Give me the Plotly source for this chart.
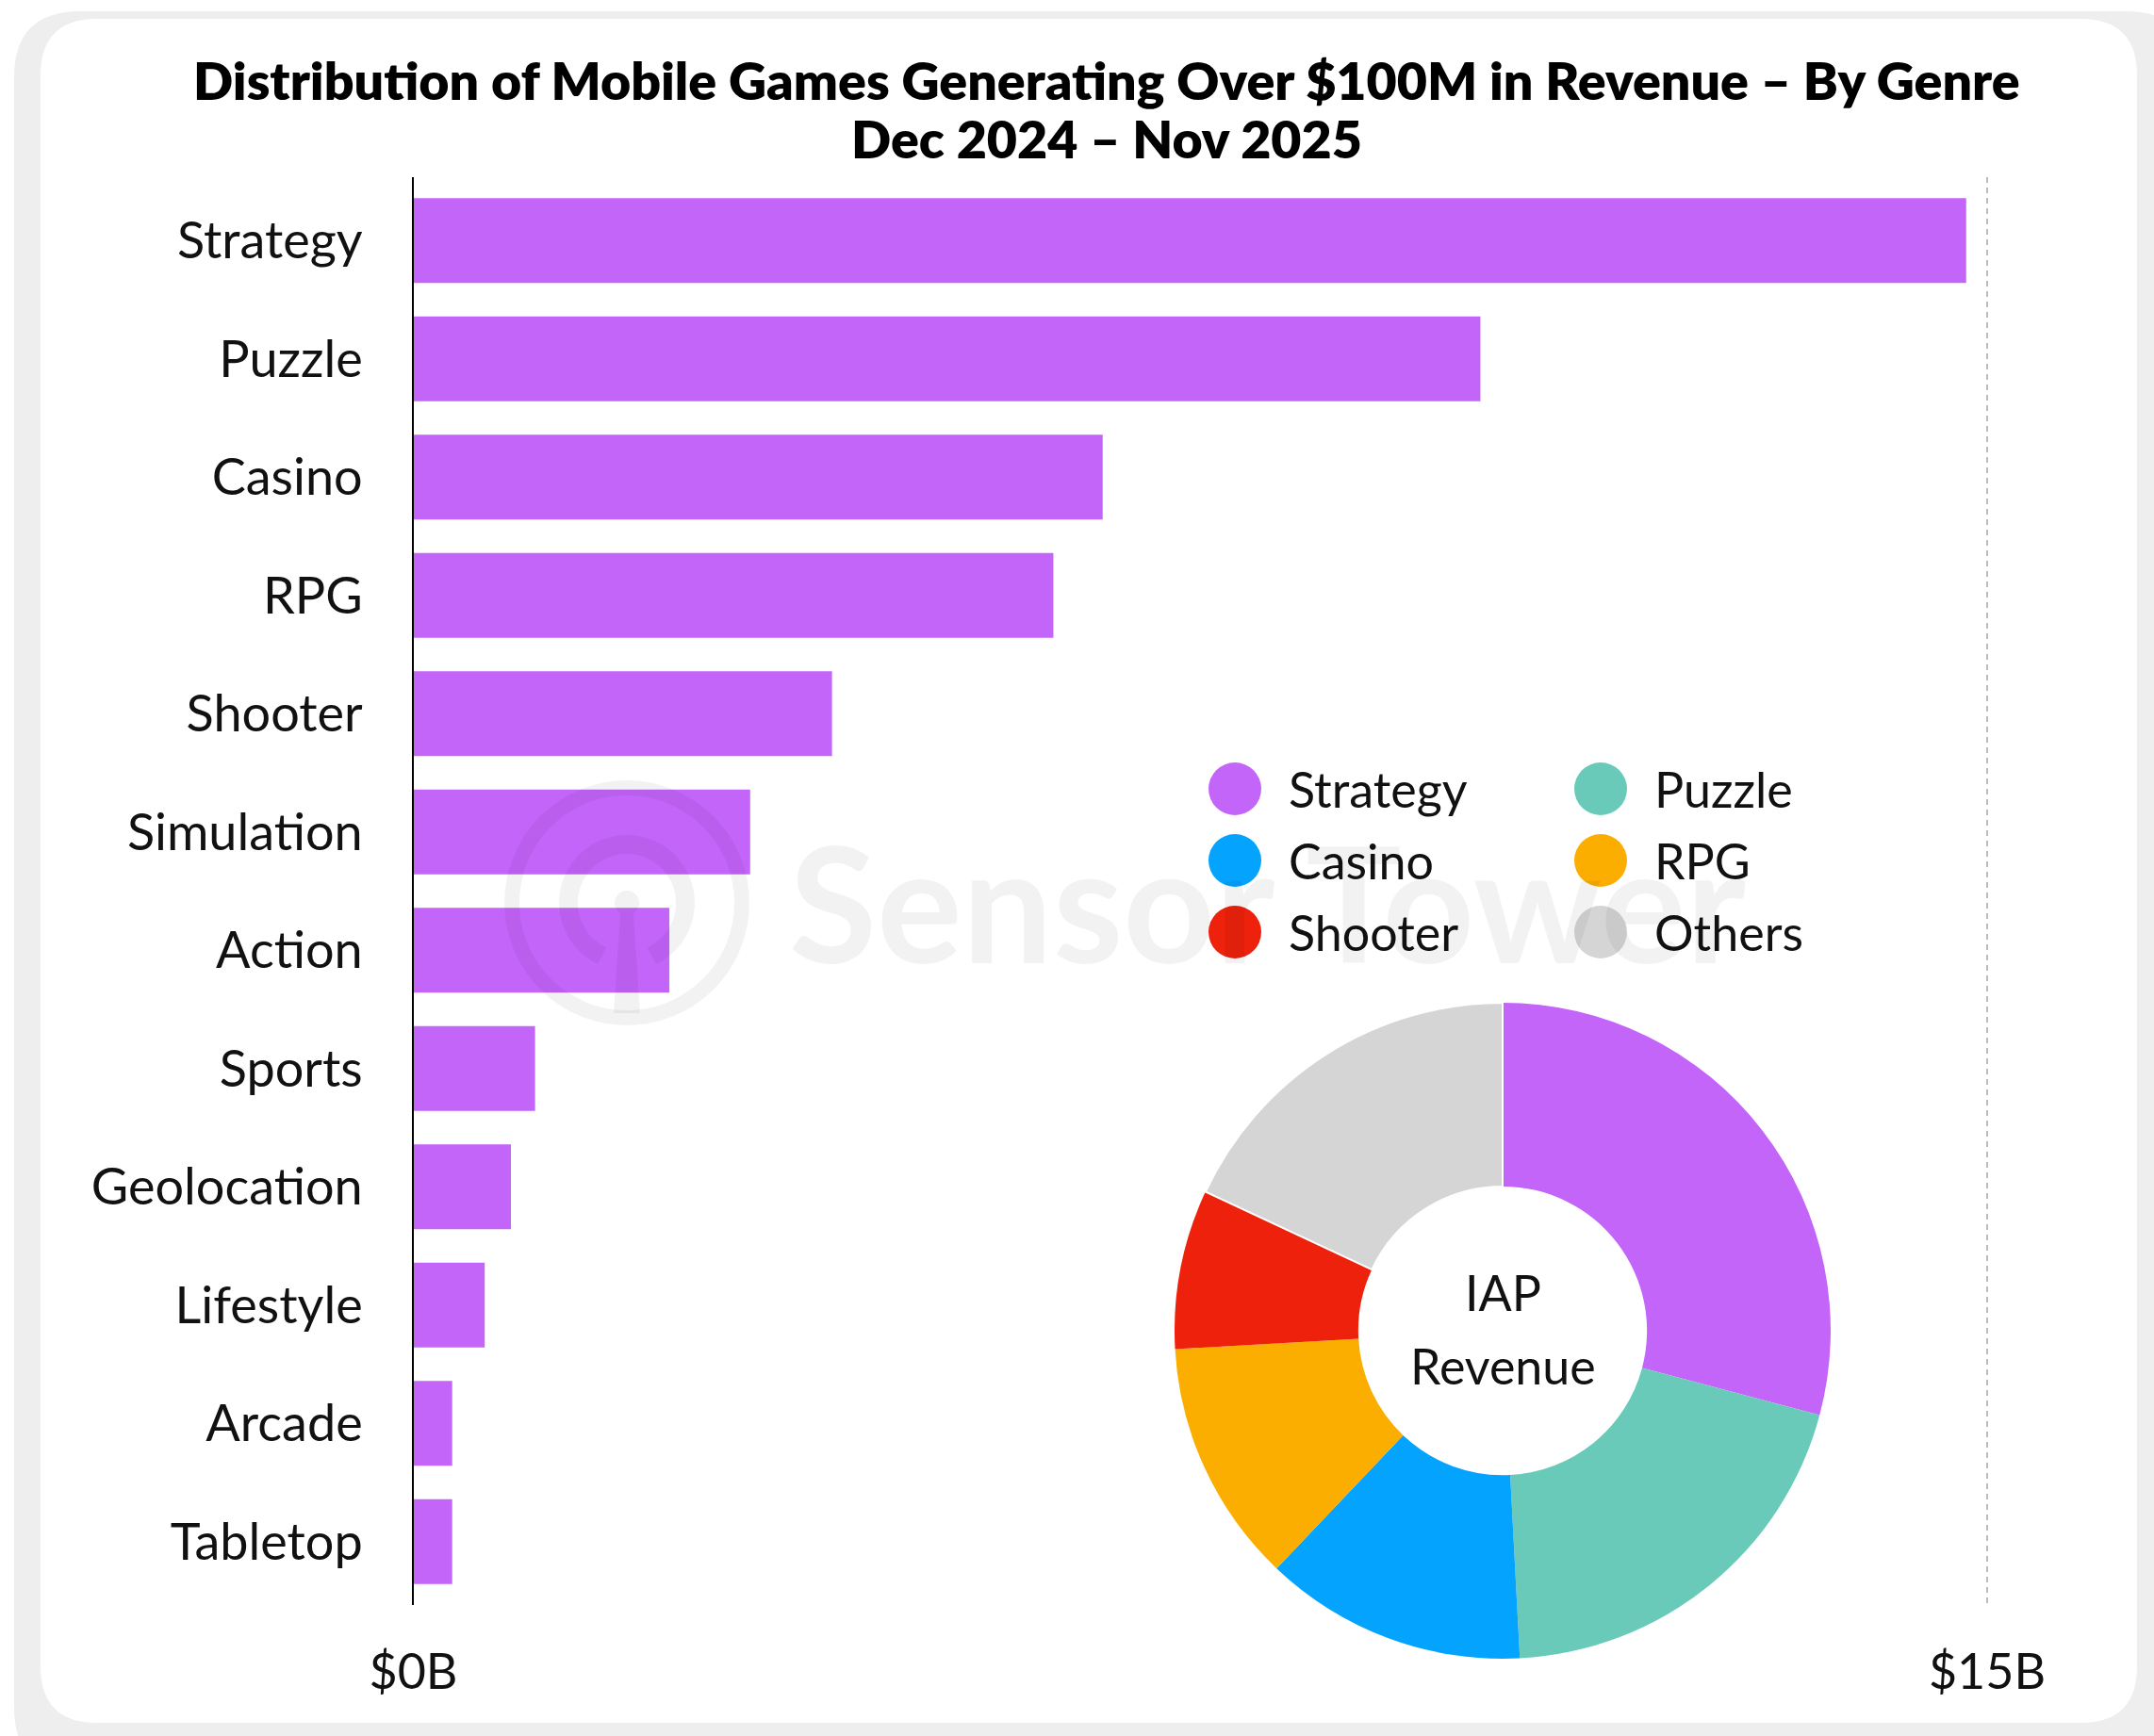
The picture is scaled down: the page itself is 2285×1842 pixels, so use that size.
import numpy as np
import plotly.graph_objects as go

# ---- data -------------------------------------------------------------
genres = ["Strategy", "Puzzle", "Casino", "RPG", "Shooter", "Simulation",
          "Action", "Sports", "Geolocation", "Lifestyle", "Arcade", "Tabletop"]
revenue_b = [14.8, 10.17, 6.57, 6.10, 3.99, 3.21, 2.44, 1.16, 0.93, 0.68, 0.37, 0.37]

x_tick_vals = [0, 15]
x_tick_text = ["$0B", "$15B"]

top_n = 5
donut_labels = genres[:top_n] + ["Others"]
donut_values = revenue_b[:top_n] + [sum(revenue_b[top_n:])]
donut_colors = ["#c465fa", "#6acab9", "#03a3fe", "#fbad00", "#ee220c", "#d5d5d5"]

title_lines = ["Distribution of Mobile Games Generating Over $100M in Revenue \u2013 By Genre",
               "Dec 2024 \u2013 Nov 2025"]
center_lines = ["IAP", "Revenue"]

# ---- canvas helpers -----------------------------------------------------
W, H = 2285, 1842
FONT = "Lato"
BAR_COLOR = "#c465fa"
WM = "rgba(0,0,0,0.05)"


def px(x):
    return x / W


def py(y):
    return 1 - y / H


def rounded_rect(x0, y0, x1, y1, r):
    """SVG path (paper units) for a rounded rectangle given in pixels."""
    pts = [
        f"M {px(x0 + r)},{py(y0)}",
        f"L {px(x1 - r)},{py(y0)}",
        f"Q {px(x1)},{py(y0)} {px(x1)},{py(y0 + r)}",
        f"L {px(x1)},{py(y1 - r)}",
        f"Q {px(x1)},{py(y1)} {px(x1 - r)},{py(y1)}",
        f"L {px(x0 + r)},{py(y1)}",
        f"Q {px(x0)},{py(y1)} {px(x0)},{py(y1 - r)}",
        f"L {px(x0)},{py(y0 + r)}",
        f"Q {px(x0)},{py(y0)} {px(x0 + r)},{py(y0)}",
        "Z",
    ]
    return " ".join(pts)


def poly_path(points, close=True):
    s = " ".join(("M" if i == 0 else "L") + f" {px(x)},{py(y)}"
                 for i, (x, y) in enumerate(points))
    return s + (" Z" if close else "")


shapes = []
annotations = []

# card with soft grey frame
shapes.append(dict(type="path", path=rounded_rect(15, 12, W + 40, H + 40, 70),
                   xref="paper", yref="paper", fillcolor="#eeeeee",
                   line=dict(width=0), layer="below"))
shapes.append(dict(type="path", path=rounded_rect(43, 20, 2267, 1828, 60),
                   xref="paper", yref="paper", fillcolor="#ffffff",
                   line=dict(width=0), layer="below"))

# ---- bar chart --------------------------------------------------------
x_left, x_right_15 = 438.5, 2108.0
x_max = 15.3
ppu = (x_right_15 - x_left) / 15
x_dom_right = x_left + ppu * x_max
y_top, y_bot = 188, 1703

fig = go.Figure()
fig.add_trace(go.Bar(
    y=genres, x=revenue_b, orientation="h",
    marker=dict(color=BAR_COLOR, line=dict(width=0)),
    width=0.717, showlegend=False, hoverinfo="y+x",
))

# ---- donut ------------------------------------------------------------
cx, cy, R = 1594, 1412, 348
fig.add_trace(go.Pie(
    labels=donut_labels, values=donut_values, hole=0.44,
    sort=False, direction="clockwise", rotation=0,
    marker=dict(colors=donut_colors,
                line=dict(color="#ffffff", width=[0, 0, 0, 0, 0, 2])),
    textinfo="none", showlegend=False,
    domain=dict(x=[px(cx - R), px(cx + R)], y=[py(cy + R), py(cy - R)]),
))

for i, line in enumerate(center_lines):
    annotations.append(dict(text=line, x=px(cx), y=py([1371, 1449][i]),
                            xref="paper", yref="paper", showarrow=False,
                            xanchor="center", yanchor="middle",
                            font=dict(family=FONT, size=52, color="#111111")))

# ---- legend (2 columns x 3 rows) ------------------------------------------
leg_cols_x = [1310, 1698]
leg_rows_y = [837, 913, 989]
leg_d = 56
for i, (lab, col) in enumerate(zip(donut_labels, donut_colors)):
    mx = leg_cols_x[i % 2]
    my = leg_rows_y[i // 2]
    shapes.append(dict(type="circle", xref="paper", yref="paper",
                       x0=px(mx - leg_d / 2), x1=px(mx + leg_d / 2),
                       y0=py(my + leg_d / 2), y1=py(my - leg_d / 2),
                       fillcolor=col, line=dict(width=0), layer="above"))
    annotations.append(dict(text=lab, x=px(mx + 55), y=py(my), xref="paper", yref="paper",
                            showarrow=False, xanchor="left", yanchor="middle",
                            font=dict(family=FONT, size=52, color="#111111")))

# ---- title ------------------------------------------------------------
for i, line in enumerate(title_lines):
    annotations.append(dict(text=line, x=px(1174), y=py([84, 146][i]),
                            xref="paper", yref="paper", showarrow=False,
                            xanchor="center", yanchor="middle",
                            font=dict(family=FONT, size=55.5, color="#000000", weight=800)))

# ---- watermark --------------------------------------------------------
lx, ly = 665, 958
shapes.append(dict(type="circle", xref="paper", yref="paper",
                   x0=px(lx - 122), x1=px(lx + 122), y0=py(ly + 122), y1=py(ly - 122),
                   line=dict(color=WM, width=16), fillcolor="rgba(0,0,0,0)", layer="above"))
arc_t = np.radians(np.linspace(25, 335, 80))
arc_pts = [(lx - 62 * np.sin(t), ly + 62 * np.cos(t)) for t in arc_t]
shapes.append(dict(type="path", xref="paper", yref="paper", path=poly_path(arc_pts, close=False),
                   line=dict(color=WM, width=20), layer="above"))
dot_t = np.radians(np.linspace(150, -150, 60))
dot_pts = [(lx + 13 * np.sin(t), ly - 13 * np.cos(t)) for t in dot_t]
stem_pts = [(lx + 7, ly + 11), (lx + 14, 1075), (lx - 14, 1075), (lx - 7, ly + 11)]
shapes.append(dict(type="path", xref="paper", yref="paper",
                   path=poly_path(dot_pts + stem_pts),
                   fillcolor=WM, line=dict(width=0), layer="above"))
annotations.append(dict(text="Sensor Tower", x=px(1344), y=py(956), xref="paper", yref="paper",
                        showarrow=False, xanchor="center", yanchor="middle",
                        font=dict(family=FONT, size=170, color=WM, weight=700)))

fig.update_layout(
    width=W, height=H, autosize=False,
    margin=dict(l=0, r=0, t=0, b=0, pad=0, autoexpand=False),
    paper_bgcolor="#ffffff", plot_bgcolor="rgba(0,0,0,0)",
    font=dict(family=FONT, color="#111111"),
    bargap=0.28,
    shapes=shapes, annotations=annotations,
    xaxis=dict(domain=[px(x_left), px(x_dom_right)], range=[0, x_max],
               tickvals=x_tick_vals, ticktext=x_tick_text, ticks="",
               tickfont=dict(family=FONT, size=52, color="#111111"),
               ticklabelstandoff=36, automargin=False,
               showgrid=True, gridcolor="#bbbbbb", gridwidth=2, griddash="6px,5px",
               zeroline=False, showline=False, fixedrange=True),
    yaxis=dict(domain=[py(y_bot), py(y_top)], range=[11.535, -0.535],
               type="category", categoryorder="array", categoryarray=genres,
               ticks="", tickfont=dict(family=FONT, size=54, color="#111111"),
               ticklabelstandoff=41, automargin=False,
               showline=True, linecolor="#000000", linewidth=2,
               showgrid=False, zeroline=False, fixedrange=True),
)

fig.write_html("out.html")
